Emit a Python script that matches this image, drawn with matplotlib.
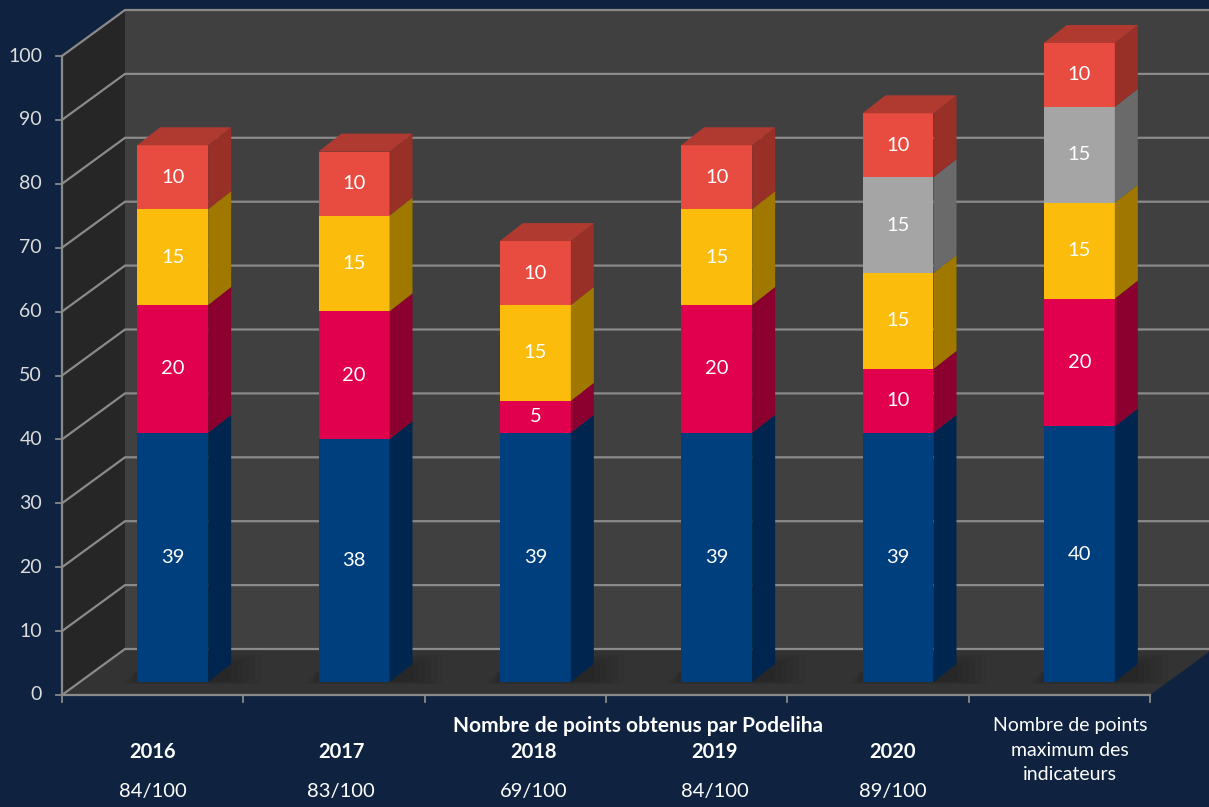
import numpy as np
import matplotlib.pyplot as plt
from matplotlib.patches import Polygon

plt.rcParams['font.family'] = ['Lato', 'DejaVu Sans']

years = ['2016', '2017', '2018', '2019', '2020']
scores = ['84/100', '83/100', '69/100', '84/100', '89/100']
last_label = 'Nombre de points\nmaximum des\nindicateurs'
group_label = 'Nombre de points obtenus par Podeliha'

blue = [39, 38, 39, 39, 39, 40]
crimson = [20, 20, 5, 20, 10, 20]
yellow = [15, 15, 15, 15, 15, 15]
grey = [0, 0, 0, 0, 15, 15]
red = [10, 10, 10, 10, 10, 10]

series = [blue, crimson, yellow, grey, red]
# front, side, top colours
colours = [('#003f7d', '#00264f', '#002f60'),
           ('#e0004d', '#8c0030', '#a8003a'),
           ('#fbbc0b', '#a07800', '#b88a00'),
           ('#a5a5a5', '#6a6a6a', '#7d7d7d'),
           ('#e84c41', '#983028', '#b03a30')]

bg = '#0f2340'
n = len(blue)

# pixel layout -> data units
px_x = 1088 / 6      # px per category
px_y = 6.39          # px per point
wall_dx, wall_dy = 63 / px_x, 46 / px_y
front_dx, front_dy = 20 / px_x, 13 / px_y
bar_dx, bar_dy = 23 / px_x, 18 / px_y
bar_w = 71 / px_x

fig = plt.figure(figsize=(12.09, 8.07), dpi=100, facecolor=bg)
ax = fig.add_axes([0, 0, 1, 1])
ax.set_facecolor(bg)
ax.set_xlim(-0.5 - 62 / px_x, -0.5 + 1147 / px_x)
ax.set_ylim(-112 / px_y, (807 - 112) / px_y)
ax.axis('off')

x0, x1 = -0.5, n - 0.5
grid_c = '#8a8a8a'

# walls and floor
ax.add_patch(Polygon([(x0 + wall_dx, wall_dy), (x1 + wall_dx, wall_dy),
                      (x1 + wall_dx, 100 + wall_dy), (x0 + wall_dx, 100 + wall_dy)],
                     closed=True, fc='#404040', ec='none', zorder=1))
ax.add_patch(Polygon([(x0, 0), (x0 + wall_dx, wall_dy), (x0 + wall_dx, 100 + wall_dy), (x0, 100)],
                     closed=True, fc='#262626', ec='none', zorder=1))
ax.add_patch(Polygon([(x0, 0), (x1, 0), (x1 + wall_dx, wall_dy), (x0 + wall_dx, wall_dy)],
                     closed=True, fc='#333333', ec='none', zorder=1))

for v in range(0, 101, 10):
    ax.plot([x0, x0 + wall_dx, x1 + wall_dx], [v, v + wall_dy, v + wall_dy],
            color=grid_c, lw=1.6, zorder=2, solid_capstyle='butt')
    ax.plot([x0 - 6 / px_x, x0], [v, v], color=grid_c, lw=1.3, zorder=2)
    ax.text(x0 - 20 / px_x, v, str(v), ha='right', va='center',
            color='#dcdcdc', fontsize=14)

ax.plot([x0, x0], [0, 100], color=grid_c, lw=1.6, zorder=2)
ax.plot([x0, x1], [0, 0], color=grid_c, lw=1.6, zorder=2)
for i in range(n + 1):
    ax.plot([x0 + i, x0 + i], [0, -7 / px_y], color=grid_c, lw=1.3, zorder=2)

# soft shadows on the floor
for i in range(n):
    cx = i + front_dx
    for k in range(6):
        g = k * 3 / px_x
        gy = k * 0.3
        ax.add_patch(Polygon([(cx - bar_w / 2 - g, front_dy - gy * 0.2),
                              (cx + bar_w / 2 + bar_dx + g * 2, front_dy - gy * 0.2),
                              (cx + bar_w / 2 + bar_dx + g * 2, front_dy + bar_dy + gy),
                              (cx - bar_w / 2 + g, front_dy + bar_dy + gy)],
                             closed=True, fc='black', alpha=0.04, ec='none', zorder=3))

# bars
for i in range(n):
    left = i + front_dx - bar_w / 2
    right = left + bar_w
    base = front_dy
    top_idx = max(j for j, s in enumerate(series) if s[i] > 0)
    for j, s in enumerate(series):
        h = s[i]
        if h == 0:
            continue
        fc, sc, tc = colours[j]
        b, t = base, base + h
        ax.add_patch(Polygon([(left, b), (right, b), (right, t), (left, t)],
                             closed=True, fc=fc, ec='none', zorder=5))
        ax.add_patch(Polygon([(right, b), (right + bar_dx, b + bar_dy),
                              (right + bar_dx, t + bar_dy), (right, t)],
                             closed=True, fc=sc, ec='none', zorder=5))
        if j == top_idx:
            ax.add_patch(Polygon([(left, t), (right, t), (right + bar_dx, t + bar_dy),
                                  (left + bar_dx, t + bar_dy)],
                                 closed=True, fc=tc, ec='none', zorder=5))
        ax.text((left + right) / 2, (b + t) / 2, str(h), ha='center', va='center',
                color='white', fontsize=14.5, zorder=6)
        base = t

# category labels
label_shift = [0.0, 0.04, 0.1, 0.1, 0.08]
for i, (yr, sc) in enumerate(zip(years, scores)):
    ax.text(i + label_shift[i], -(752 - 695) / px_y, yr, ha='center', va='center',
            color='white', fontsize=14.5, fontweight='bold')
    ax.text(i + label_shift[i], -(791 - 695) / px_y, sc, ha='center', va='center',
            color='white', fontsize=14.5)
ax.text(n - 1 + 0.06, -(750 - 695) / px_y, last_label, ha='center', va='center',
        color='white', fontsize=14, linespacing=1.55)
ax.text((638 - 62) / px_x - 0.5, -(726 - 695) / px_y, group_label, ha='center',
        va='center', color='white', fontsize=15, fontweight='bold')

fig.savefig('out.png', dpi=100, facecolor=bg)
